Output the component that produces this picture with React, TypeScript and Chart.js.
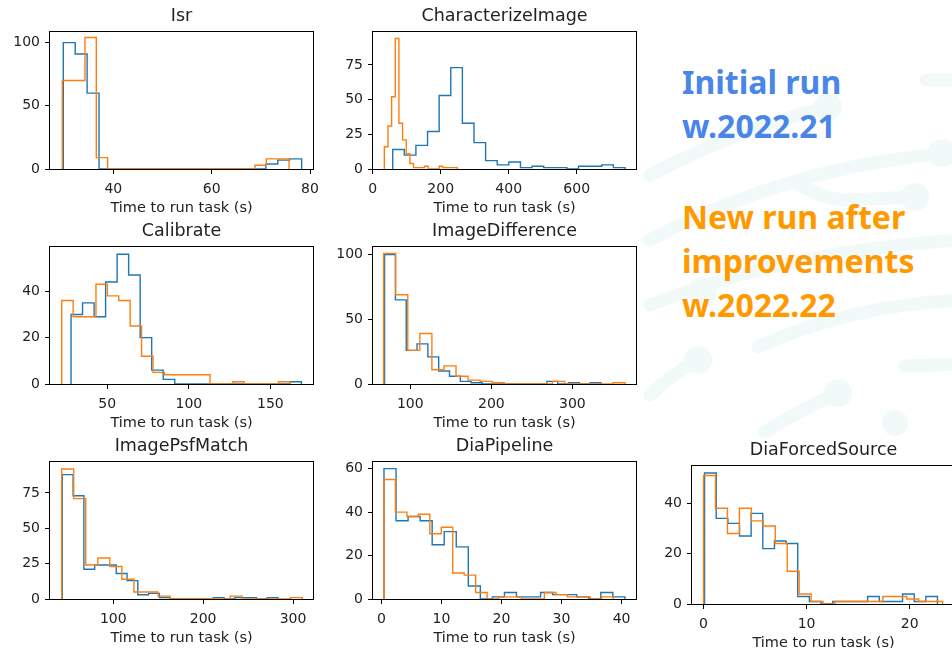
import React, { useEffect, useRef } from "react";
import { Chart, registerables } from "chart.js";

Chart.register(...registerables);
Chart.defaults.font.family = "'DejaVu Sans', sans-serif";

const BLUE = "#1f77b4";
const ORANGE = "#ff7f0e";
const TEXT = "#222";
const AXIS_LABEL = "Time to run task (s)";

// ---- Isr ----
const isrBlueRange = [29.83, 78.3];
const isrBlue = [100, 91, 60, 0, 0, 0, 0, 0, 0, 0, 0, 0, 0, 0, 0, 0, 0, 4, 7, 8];
const isrOrangeRange = [29.63, 75.73];
const isrOrange = [70, 70, 104, 9, 0, 0, 0, 0, 0, 0, 0, 0, 0, 0, 0, 0, 0, 3, 8, 8];
const isrXRange = [27.13, 80.61];
const isrYMax = 108.4;
const isrXTicks = [40, 60, 80];
const isrYTicks = [0, 50, 100];

// ---- CharacterizeImage ----
const ciBlueRange = [58.8, 742];
const ciBlue = [14, 10, 17, 27, 53, 73, 33, 19, 6, 3, 5, 1, 2, 1, 1, 0, 2, 2, 3, 1];
const ciOrangeRange = [34.2, 249];
const ciOrange = [16, 31, 52, 94, 33, 21, 11, 4, 1, 1, 1, 2, 0, 0, 0, 2, 1, 1, 1, 1];
const ciXRange = [0.9, 774.4];
const ciYMax = 98.7;
const ciXTicks = [0, 200, 400, 600];
const ciYTicks = [0, 25, 50, 75];

// ---- Calibrate ----
const calBlueRange = [27.8, 169];
const calBlue = [30, 35, 29, 44, 56, 47, 20, 6, 2, 0, 0, 0, 0, 0, 0, 0, 0, 0, 0, 1];
const calOrangeRange = [22.1, 161.9];
const calOrange = [36, 29, 29, 43, 38, 36, 25, 12, 5, 4, 4, 4, 4, 0, 0, 1, 0, 0, 0, 1];
const calXRange = [14.9, 176.1];
const calYMax = 59.1;
const calXTicks = [50, 100, 150];
const calYTicks = [0, 20, 40];

// ---- ImageDifference ----
const idBlueRange = [68.3, 335.3];
const idBlue = [100, 65, 26, 31, 21, 10, 6, 2, 1, 0, 0, 0, 0, 0, 0, 2, 0, 1, 0, 1];
const idOrangeRange = [67.1, 364.9];
const idOrange = [101, 69, 26, 39, 11, 14, 6, 3, 2, 1, 0, 0, 0, 0, 2, 0, 0, 0, 0, 1];
const idXRange = [54, 378.5];
const idYMax = 105.9;
const idXTicks = [100, 200, 300];
const idYTicks = [0, 50, 100];

// ---- ImagePsfMatch ----
const ipBlueRange = [43.3, 283.3];
const ipBlue = [88, 73, 21, 24, 24, 18, 13, 3, 4, 1, 0, 0, 0, 0, 1, 0, 1, 1, 0, 1];
const ipOrangeRange = [42.6, 310.4];
const ipOrange = [92, 71, 24, 29, 23, 14, 5, 5, 2, 0, 0, 0, 0, 0, 2, 0, 0, 0, 0, 1];
const ipXRange = [29.6, 322.2];
const ipYMax = 96.9;
const ipXTicks = [100, 200, 300];
const ipYTicks = [0, 25, 50, 75];

// ---- DiaPipeline ----
const dpBlueRange = [0.44, 40.55];
const dpBlue = [60, 36, 38, 36, 25, 31, 24, 6, 0, 1, 3, 1, 1, 3, 2, 2, 1, 0, 3, 1];
const dpOrangeRange = [0.44, 38.6];
const dpOrange = [55, 40, 38, 39, 30, 33, 12, 11, 3, 0, 1, 1, 0, 0, 3, 2, 1, 1, 0, 1];
const dpXRange = [-1.39, 42.4];
const dpYMax = 63.05;
const dpXTicks = [0, 10, 20, 30, 40];
const dpYTicks = [0, 20, 40, 60];

// ---- DiaForcedSource ----
const dfBlueRange = [0.1, 22.7];
const dfBlue = [52, 34, 32, 27, 36, 22, 25, 24, 3, 1, 0, 1, 1, 1, 3, 1, 1, 4, 1, 3];
const dfOrangeRange = [0, 23.2];
const dfOrange = [51, 38, 28, 38, 33, 31, 24, 13, 4, 1, 0, 1, 1, 1, 1, 3, 3, 2, 1, 1];
const dfXRange = [-1.12, 24.4];
const dfYMax = 54.8;
const dfXTicks = [0, 10, 20];
const dfYTicks = [0, 20, 40];

type PanelDef = {
  title: string;
  blueRange: number[];
  blue: number[];
  orangeRange: number[];
  orange: number[];
  xRange: number[];
  yMax: number;
  xTicks: number[];
  yTicks: number[];
  box: number[]; // plot area [left, top, right, bottom] in page px
};

const panels: PanelDef[] = [
  { title: "Isr", blueRange: isrBlueRange, blue: isrBlue, orangeRange: isrOrangeRange, orange: isrOrange, xRange: isrXRange, yMax: isrYMax, xTicks: isrXTicks, yTicks: isrYTicks, box: [50, 32, 313, 169] },
  { title: "CharacterizeImage", blueRange: ciBlueRange, blue: ciBlue, orangeRange: ciOrangeRange, orange: ciOrange, xRange: ciXRange, yMax: ciYMax, xTicks: ciXTicks, yTicks: ciYTicks, box: [373, 32, 636, 169] },
  { title: "Calibrate", blueRange: calBlueRange, blue: calBlue, orangeRange: calOrangeRange, orange: calOrange, xRange: calXRange, yMax: calYMax, xTicks: calXTicks, yTicks: calYTicks, box: [50, 247, 313, 384] },
  { title: "ImageDifference", blueRange: idBlueRange, blue: idBlue, orangeRange: idOrangeRange, orange: idOrange, xRange: idXRange, yMax: idYMax, xTicks: idXTicks, yTicks: idYTicks, box: [373, 247, 636, 384] },
  { title: "ImagePsfMatch", blueRange: ipBlueRange, blue: ipBlue, orangeRange: ipOrangeRange, orange: ipOrange, xRange: ipXRange, yMax: ipYMax, xTicks: ipXTicks, yTicks: ipYTicks, box: [50, 462, 313, 599] },
  { title: "DiaPipeline", blueRange: dpBlueRange, blue: dpBlue, orangeRange: dpOrangeRange, orange: dpOrange, xRange: dpXRange, yMax: dpYMax, xTicks: dpXTicks, yTicks: dpYTicks, box: [373, 462, 636, 599] },
  { title: "DiaForcedSource", blueRange: dfBlueRange, blue: dfBlue, orangeRange: dfOrangeRange, orange: dfOrange, xRange: dfXRange, yMax: dfYMax, xTicks: dfXTicks, yTicks: dfYTicks, box: [692, 466, 955, 604] },
];

const PAD_L = 50;
const PAD_T = 32;
const PAD_R = 22;
const PAD_B = 50;

function histPoints(range: number[], counts: number[]) {
  const n = counts.length;
  const w = (range[1] - range[0]) / n;
  const pts: { x: number; y: number }[] = [{ x: range[0], y: 0 }];
  counts.forEach((c, i) => pts.push({ x: range[0] + i * w, y: c }));
  pts.push({ x: range[1], y: counts[n - 1] });
  pts.push({ x: range[1], y: 0 });
  return pts;
}

const framePlugin = {
  id: "frame",
  afterDatasetsDraw(chart: any) {
    const { ctx, chartArea: a } = chart;
    ctx.save();
    ctx.strokeStyle = "#000";
    ctx.lineWidth = 1;
    ctx.strokeRect(a.left - 0.5, a.top - 0.5, a.right - a.left + 1, a.bottom - a.top + 1);
    ctx.restore();
  },
};

function Panel({ p }: { p: PanelDef }) {
  const ref = useRef<HTMLCanvasElement>(null);
  const [l, t, r, b] = p.box;
  const W = r - l + PAD_L + PAD_R;
  const H = b - t + PAD_T + PAD_B;

  useEffect(() => {
    const tickFont = { family: "'DejaVu Sans'", size: 14 };
    const grid = {
      display: true,
      drawOnChartArea: false,
      drawTicks: true,
      tickLength: 5,
      color: "#000",
      lineWidth: 1,
    };
    const chart = new Chart(ref.current as HTMLCanvasElement, {
      type: "line",
      data: {
        datasets: [
          {
            label: "w.2022.21",
            data: histPoints(p.blueRange, p.blue),
            borderColor: BLUE,
            borderWidth: 1.4,
            stepped: true,
            pointRadius: 0,
            fill: false,
            order: 1,
          },
          {
            label: "w.2022.22",
            data: histPoints(p.orangeRange, p.orange),
            borderColor: ORANGE,
            borderWidth: 1.4,
            stepped: true,
            pointRadius: 0,
            fill: false,
            order: 0,
          },
        ],
      },
      options: {
        animation: false,
        responsive: false,
        maintainAspectRatio: false,
        devicePixelRatio: 1,
        events: [],
        layout: { padding: { left: 0, right: PAD_R, top: 0, bottom: 0 } },
        plugins: {
          legend: { display: false },
          tooltip: { enabled: false },
          title: {
            display: true,
            text: p.title,
            fullSize: false,
            color: TEXT,
            font: { family: "'DejaVu Sans'", size: 17.5, weight: "normal", lineHeight: 1.2 },
            padding: { top: 5.5, bottom: 5.5 },
          },
        },
        scales: {
          x: {
            type: "linear",
            min: p.xRange[0],
            max: p.xRange[1],
            afterBuildTicks: (s: any) => {
              s.ticks = p.xTicks.map((v) => ({ value: v }));
            },
            afterFit: (s: any) => {
              s.height = PAD_B;
            },
            grid,
            border: { display: false },
            ticks: {
              font: tickFont,
              color: TEXT,
              padding: 7,
              maxRotation: 0,
              autoSkip: false,
              callback: (v: any) => String(v),
            },
            title: {
              display: true,
              text: AXIS_LABEL,
              color: TEXT,
              font: { family: "'DejaVu Sans'", size: 14.5, lineHeight: 1.2 },
              padding: { top: 0, bottom: 1.8 },
            },
          },
          y: {
            type: "linear",
            min: 0,
            max: p.yMax,
            afterBuildTicks: (s: any) => {
              s.ticks = p.yTicks.map((v) => ({ value: v }));
            },
            afterFit: (s: any) => {
              s.width = PAD_L;
            },
            grid,
            border: { display: false },
            ticks: {
              font: tickFont,
              color: TEXT,
              padding: 5,
              autoSkip: false,
              callback: (v: any) => String(v),
            },
          },
        },
      } as any,
      plugins: [framePlugin],
    });
    return () => chart.destroy();
  }, []);

  return (
    <canvas
      ref={ref}
      width={W}
      height={H}
      style={{ position: "absolute", left: l - PAD_L, top: t - PAD_T, width: W, height: H }}
    />
  );
}

const DECO = "#f2f9f9";

function Decoration() {
  return (
    <svg width={952} height={648} style={{ position: "absolute", left: 0, top: 0 }}>
      <g stroke={DECO} strokeWidth={13} fill="none" strokeLinecap="round">
        <path d="M 926 80 L 965 80" />
        <path d="M 650 175 Q 740 128 828 107" />
        <path d="M 650 240 Q 790 165 960 152" />
        <path d="M 795 182 Q 820 198 845 200 L 915 197" />
        <path d="M 650 305 Q 790 250 960 240" />
        <path d="M 758 347 Q 850 305 960 300" />
        <path d="M 650 395 Q 670 375 698 360" />
        <path d="M 905 366 L 965 364" />
        <path d="M 765 432 Q 800 410 838 393" />
      </g>
      <g fill={DECO}>
        <circle cx={828} cy={107} r={14} />
        <circle cx={942} cy={153} r={14} />
        <circle cx={915} cy={197} r={14} />
        <circle cx={702} cy={292} r={15} />
        <circle cx={698} cy={360} r={14} />
        <circle cx={838} cy={393} r={14} />
        <circle cx={895} cy={423} r={13} />
      </g>
    </svg>
  );
}

const textStyle: React.CSSProperties = {
  position: "absolute",
  left: 682,
  fontFamily: "'Noto Sans', sans-serif",
  fontWeight: 700,
  fontSize: 32,
  lineHeight: "44px",
  whiteSpace: "nowrap",
};

export default function App() {
  return (
    <div
      style={{
        position: "fixed",
        left: 0,
        top: 0,
        width: 952,
        height: 648,
        overflow: "hidden",
        background: "#fff",
      }}
    >
      <Decoration />
      {panels.map((p) => (
        <Panel key={p.title} p={p} />
      ))}
      <div style={{ ...textStyle, top: 60, color: "#4a86e8" }}>
        Initial run
        <br />
        w.2022.21
      </div>
      <div style={{ ...textStyle, top: 195, color: "#ff9900" }}>
        New run after
        <br />
        improvements
        <br />
        w.2022.22
      </div>
    </div>
  );
}
